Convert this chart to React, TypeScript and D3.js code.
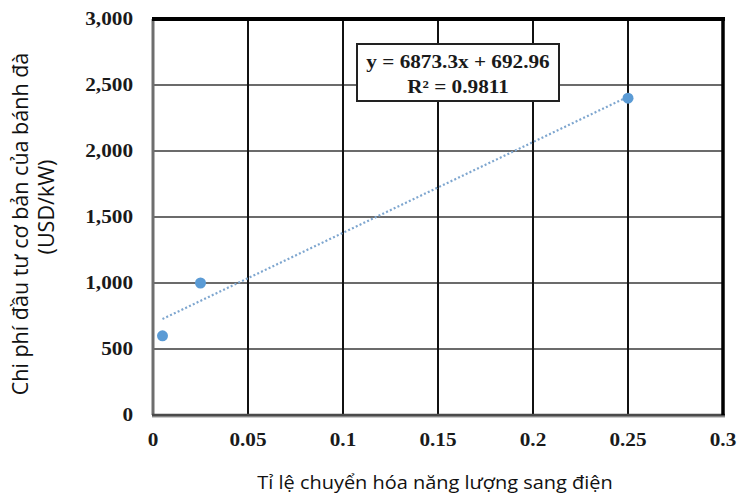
import React from "react";
import * as d3 from "d3";

// Conversion rate vs. flywheel base investment cost
const conversionRates = [0.005, 0.025, 0.25];
const investmentCosts = [600, 1000, 2400];

// Linear trendline coefficients
const trendSlope = 6873.3;
const trendIntercept = 692.96;
const rSquared = 0.9811;

const xTicks = [0, 0.05, 0.1, 0.15, 0.2, 0.25, 0.3];
const xTickLabels = ["0", "0.05", "0.1", "0.15", "0.2", "0.25", "0.3"];
const yTicks = [0, 500, 1000, 1500, 2000, 2500, 3000];
const yTickLabels = ["0", "500", "1,000", "1,500", "2,000", "2,500", "3,000"];

const W = 737;
const H = 495;
const plot = { left: 153, right: 723, top: 19, bottom: 415 };

const serif = "'Liberation Serif', 'Times New Roman', serif";
const sans = "'Open Sans', 'Noto Sans', sans-serif";

export default function App() {
  const x = d3.scaleLinear().domain([0, 0.3]).range([plot.left, plot.right]);
  const y = d3.scaleLinear().domain([0, 3000]).range([plot.bottom, plot.top]);

  const x0 = d3.min(conversionRates) as number;
  const x1 = d3.max(conversionRates) as number;
  const trend = d3
    .line<number>()
    .x((d) => x(d))
    .y((d) => y(trendSlope * d + trendIntercept));

  const pointColor = "#5b9bd5";
  const eqBox = { x: 357, y: 44, w: 202, h: 57 };
  const eqCx = eqBox.x + eqBox.w / 2;

  return (
    <svg
      width={W}
      height={H}
      style={{ position: "absolute", left: 0, top: 0, background: "#fff" }}
    >
      {/* grid */}
      {yTicks.slice(1, -1).map((t) => (
        <line
          key={"gy" + t}
          x1={plot.left}
          x2={plot.right}
          y1={y(t)}
          y2={y(t)}
          stroke="#3a3a3a"
          strokeWidth={1.6}
        />
      ))}
      {xTicks.slice(1, -1).map((t) => (
        <line
          key={"gx" + t}
          x1={x(t)}
          x2={x(t)}
          y1={plot.top}
          y2={plot.bottom}
          stroke="#111"
          strokeWidth={2}
        />
      ))}

      {/* frame */}
      <line x1={plot.left} x2={plot.left} y1={plot.top} y2={plot.bottom} stroke="#6e6e6e" strokeWidth={3} />
      <line x1={plot.left - 1} x2={plot.right + 2} y1={plot.bottom + 1} y2={plot.bottom + 1} stroke="#9a9a9a" strokeWidth={3} />
      <line x1={plot.left - 1} x2={plot.right + 2} y1={plot.bottom} y2={plot.bottom} stroke="#4a4a4a" strokeWidth={2.5} />
      <line x1={plot.left - 1} x2={plot.right + 2} y1={plot.top} y2={plot.top} stroke="#000" strokeWidth={4} />
      <line x1={plot.right} x2={plot.right} y1={plot.top} y2={plot.bottom} stroke="#000" strokeWidth={3.5} />

      {/* trendline */}
      <path
        d={trend([x0, x1]) || ""}
        fill="none"
        stroke="#7ea6cf"
        strokeWidth={2.2}
        strokeDasharray="2,2.2"
      />

      {/* data points */}
      {conversionRates.map((r, i) => (
        <circle key={i} cx={x(r)} cy={y(investmentCosts[i])} r={5.5} fill={pointColor} />
      ))}

      {/* equation box */}
      <rect
        x={eqBox.x}
        y={eqBox.y}
        width={eqBox.w}
        height={eqBox.h}
        fill="#fff"
        stroke="#222"
        strokeWidth={2}
      />
      <g fontFamily={serif} fontWeight="bold" fontSize={18} fill="#1a1a1a" textAnchor="middle">
        <text transform={`translate(${eqCx},${eqBox.y + 24}) scale(1.18,1)`}>
          {`y = ${trendSlope}x + ${trendIntercept}`}
        </text>
        <text transform={`translate(${eqCx},${eqBox.y + 49}) scale(1.18,1)`}>
          {`R² = ${rSquared}`}
        </text>
      </g>

      {/* y tick labels */}
      <g fontFamily={serif} fontWeight="bold" fontSize={18} fill="#1a1a1a" textAnchor="end">
        {yTicks.map((t, i) => (
          <text key={"yl" + t} transform={`translate(133,${y(t) + 6}) scale(1.18,1)`}>
            {yTickLabels[i]}
          </text>
        ))}
      </g>

      {/* x tick labels */}
      <g fontFamily={serif} fontWeight="bold" fontSize={18} fill="#1a1a1a" textAnchor="middle">
        {xTicks.map((t, i) => (
          <text key={"xl" + t} transform={`translate(${x(t)},${446}) scale(1.18,1)`}>
            {xTickLabels[i]}
          </text>
        ))}
      </g>

      {/* axis titles */}
      <text
        transform="translate(435,489) scale(1.05,1)"
        fontFamily={sans}
        fontSize={19}
        fill="#111"
        textAnchor="middle"
      >
        Tỉ lệ chuyển hóa năng lượng sang điện
      </text>
      <g fontFamily={sans} fontSize={21.5} fill="#111" textAnchor="middle">
        <text transform="translate(28,224) rotate(-90)">Chi phí đầu tư cơ bản của bánh đà</text>
        <text transform="translate(54,207) rotate(-90)">(USD/kW)</text>
      </g>
    </svg>
  );
}
